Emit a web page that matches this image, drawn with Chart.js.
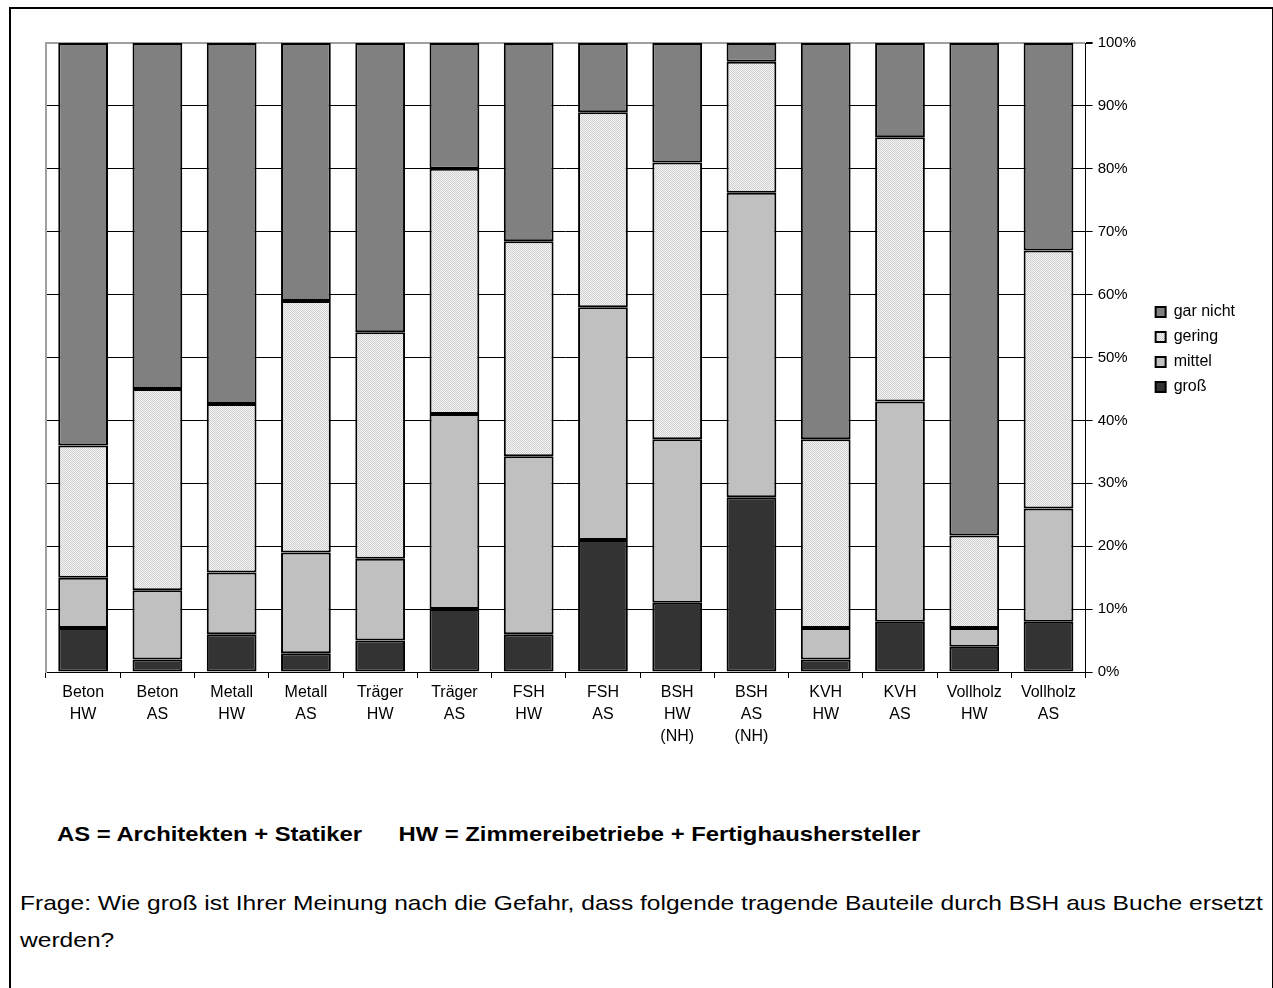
<!DOCTYPE html>
<html lang="de">
<head>
<meta charset="utf-8">
<title>Gefahr der Substitution durch BSH aus Buche</title>
<script src="https://cdn.jsdelivr.net/npm/chart.js@4/dist/chart.umd.min.js"></script>
<style>
  html, body { margin: 0; padding: 0; background: #fff; }
  body { width: 1273px; height: 988px; position: relative; overflow: hidden;
         font-family: "Liberation Sans", Arial, sans-serif; color: #000; }
  #frame { position: absolute; left: 9px; top: 7px; width: 1261px; height: 1000px;
           border: 2px solid #000; border-bottom: none; }
  #chartWrap { position: absolute; left: 0; top: 0; width: 1273px; height: 760px; }
  .wide { position: absolute; white-space: nowrap; transform-origin: 0 0; }
  #note { left: 57px; top: 821px; font-size: 21px; font-weight: bold; line-height: 26px;
          transform: scaleX(1.135); }
  #note span + span { margin-left: 32px; }
  #question { left: 20px; top: 884px; font-size: 21px; line-height: 37px;
              transform: scaleX(1.17); }
</style>
</head>
<body>
<div id="frame"></div>
<div id="chartWrap"><canvas id="gefahrChart" width="1273" height="760"></canvas></div>
<div id="note" class="wide"><span>AS = Architekten + Statiker</span><span>HW = Zimmereibetriebe + Fertighaushersteller</span></div>
<div id="question" class="wide">Frage: Wie groß ist Ihrer Meinung nach die Gefahr, dass folgende tragende Bauteile durch BSH aus Buche ersetzt<br>werden?</div>

<script>
var categories = [
  ['Beton', 'HW'], ['Beton', 'AS'], ['Metall', 'HW'], ['Metall', 'AS'],
  ['Träger', 'HW'], ['Träger', 'AS'], ['FSH', 'HW'], ['FSH', 'AS'],
  ['BSH', 'HW', '(NH)'], ['BSH', 'AS', '(NH)'], ['KVH', 'HW'], ['KVH', 'AS'],
  ['Vollholz', 'HW'], ['Vollholz', 'AS']
];

// Anteile in Prozent, je Bauteil/Zielgruppe
var gross    = [7, 2, 6, 3, 5, 10, 6, 21, 11, 27.8, 2, 8, 4, 8];
var mittel   = [8, 11, 9.8, 16, 13, 31, 28.3, 37, 26, 48.4, 5, 35, 3, 18];
var gering   = [21, 32, 26.8, 40, 36, 39, 34.2, 31, 44, 20.8, 30, 42, 14.7, 41];
var garNicht = [64, 55, 57.4, 41, 46, 20, 31.5, 11, 19, 3, 63, 15, 78.3, 33];

var yTicks = [0, 10, 20, 30, 40, 50, 60, 70, 80, 90, 100];

(function () {
  var canvas = document.getElementById('gefahrChart');
  if (!canvas || typeof Chart === 'undefined') {
    return;
  }

  // fine stipple fill for "gering"
  function makeStipple() {
    var tile = document.createElement('canvas');
    tile.width = 2;
    tile.height = 2;
    var t = tile.getContext('2d');
    t.fillStyle = '#f4f4f4';
    t.fillRect(0, 0, 2, 2);
    t.fillStyle = '#d0d0d0';
    t.fillRect(0, 0, 1, 1);
    t.fillRect(1, 1, 1, 1);
    return canvas.getContext('2d').createPattern(tile, 'repeat');
  }

  // nudge the legend block up a little so it sits beside 50-60 %
  var legendNudge = {
    id: 'legendNudge',
    afterLayout: function (chart) {
      if (chart.legend) {
        chart.legend.top -= 8;
        chart.legend.bottom -= 8;
      }
    },
  };

  Chart.defaults.font.family = '"Liberation Sans", Arial, sans-serif';
  Chart.defaults.font.size = 16;
  Chart.defaults.color = '#000';

  function ds(label, data, fill) {
    return {
      label: label,
      data: data,
      backgroundColor: fill,
      borderColor: '#000',
      borderWidth: 2,
      borderSkipped: false,
      barPercentage: 0.67,
      categoryPercentage: 1.0,
    };
  }

  new Chart(canvas, {
    type: 'bar',
    data: {
      labels: categories,
      datasets: [
        ds('groß', gross, '#333333'),
        ds('mittel', mittel, '#c0c0c0'),
        ds('gering', gering, makeStipple()),
        ds('gar nicht', garNicht, '#808080'),
      ],
    },
    plugins: [legendNudge],
    options: {
      responsive: false,
      animation: false,
      devicePixelRatio: 1,
      layout: { padding: { left: 46, top: 43, right: 28, bottom: 8 } },
      plugins: {
        tooltip: { enabled: false },
        legend: {
          position: 'right',
          fullSize: false,
          reverse: true,
          labels: {
            boxWidth: 10,
            boxHeight: 10,
            padding: 9,
            color: '#000',
            font: { size: 16 },
          },
        },
      },
      scales: {
        x: {
          stacked: true,
          grid: {
            offset: true,
            drawOnChartArea: false,
            color: '#000',
            tickLength: 6,
          },
          border: { display: true, color: '#000', width: 1 },
          ticks: {
            color: '#000',
            maxRotation: 0,
            autoSkip: false,
            padding: 4,
            font: { size: 16, lineHeight: 1.375 },
          },
          afterFit: function (scale) {
            scale.height = 80;
          },
        },
        y: {
          stacked: true,
          position: 'right',
          min: 0,
          max: 100,
          afterBuildTicks: function (scale) {
            scale.ticks = yTicks.map(function (v) { return { value: v }; });
          },
          grid: {
            color: function (ctx) {
              return ctx.tick && ctx.tick.value === 100 ? '#a0a0a0' : '#000';
            },
            lineWidth: function (ctx) {
              return ctx.tick && ctx.tick.value === 100 ? 2 : 1;
            },
            tickLength: 7,
            tickColor: '#000',
          },
          border: { display: true, color: '#000', width: 1 },
          ticks: {
            color: '#000',
            padding: 5,
            font: { size: 15 },
            callback: function (value) {
              return value + '%';
            },
          },
          afterFit: function (scale) {
            scale.width = 61;
          },
        },
        yLeft: {
          position: 'left',
          display: true,
          min: 0,
          max: 100,
          grid: { drawOnChartArea: false, drawTicks: false },
          border: { display: true, color: '#a0a0a0', width: 2 },
          ticks: { display: false },
          afterFit: function (scale) {
            scale.width = 0;
          },
        },
      },
    },
  });
})();
</script>
</body>
</html>
